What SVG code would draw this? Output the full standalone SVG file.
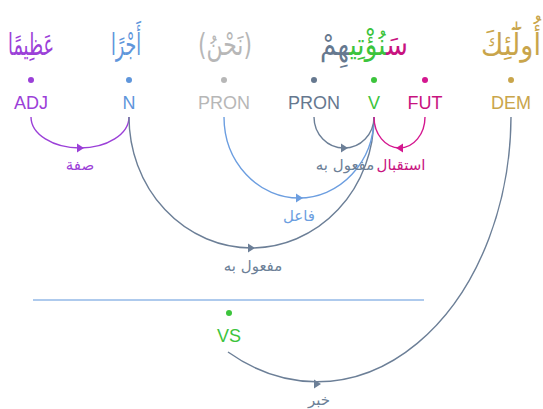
<svg xmlns="http://www.w3.org/2000/svg" width="543" height="409" viewBox="0 0 543 409">
<style>
.w{font-family:"DejaVu Sans",sans-serif;font-size:30px;text-anchor:middle;direction:rtl}
.t{font-family:"Liberation Sans",Arial,sans-serif;font-size:18px;text-anchor:middle}
.l{font-family:"DejaVu Sans",sans-serif;font-size:15px;text-anchor:middle;direction:rtl}
.a{fill:none;stroke-width:1.4}
</style>
<rect width="543" height="409" fill="#fff"/>
<g id="n-adj"><text class="w" x="31" y="55" fill="#9b40d8" textLength="46" lengthAdjust="spacingAndGlyphs">عَظِيمًا</text><circle cx="31" cy="80" r="3" fill="#9b40d8"/><text class="t" x="31" y="109" fill="#9b40d8">ADJ</text></g>
<g id="n-n"><text class="w" x="126" y="55" fill="#5f96db" textLength="30" lengthAdjust="spacingAndGlyphs">أَجْرًا</text><circle cx="129" cy="80" r="3" fill="#5f96db"/><text class="t" x="129" y="109" fill="#5f96db">N</text></g>
<g id="n-pron1"><text class="w" x="225" y="55" fill="#b7b7b7" textLength="54" lengthAdjust="spacingAndGlyphs">(نَحْنُ)</text><circle cx="224" cy="80" r="3" fill="#b7b7b7"/><text class="t" x="224" y="109" fill="#b7b7b7">PRON</text></g>
<g id="n-word"><text class="w" x="364" y="55" textLength="88" lengthAdjust="spacingAndGlyphs"><tspan fill="#c8137f">سَ</tspan><tspan fill="#3cc43c">نُؤْتِي</tspan><tspan fill="#66788f">هِمْ</tspan></text></g>
<g id="n-pron2"><circle cx="314" cy="80" r="3" fill="#66788f"/><text class="t" x="314" y="109" fill="#66788f">PRON</text></g>
<g id="n-v"><circle cx="374" cy="80" r="3" fill="#3cc43c"/><text class="t" x="374" y="109" fill="#3cc43c">V</text></g>
<g id="n-fut"><circle cx="425" cy="80" r="3" fill="#d4178f"/><text class="t" x="425" y="109" fill="#c8137f">FUT</text></g>
<g id="n-dem"><text class="w" x="511" y="55" fill="#c9a54b" textLength="60" lengthAdjust="spacingAndGlyphs">أُولَٰٓئِكَ</text><circle cx="511" cy="80" r="3" fill="#c9a54b"/><text class="t" x="511" y="109" fill="#c9a54b">DEM</text></g>
<g id="n-vs"><circle cx="229" cy="313" r="3" fill="#3cc43c"/><text class="t" x="229" y="342" fill="#3cc43c">VS</text></g>
<line x1="33" y1="300" x2="424" y2="300" stroke="#5f96db" stroke-width="1.2"/>
<g id="connectors">
<path class="a" stroke="#9b40d8" d="M31 117 A49 31 0 0 0 129 117"/>
<polygon fill="#9b40d8" points="77,143.5 84,148 77,152.5"/>
<text class="l" x="80" y="170" fill="#9b40d8">صفة</text>
<path class="a" stroke="#6c7f97" d="M129 117 A122.5 131 0 0 0 374 117"/>
<polygon fill="#6c7f97" points="248,243.5 255,248 248,252.5"/>
<text class="l" x="253" y="271" fill="#6c7f97">مفعول به</text>
<path class="a" stroke="#6c9ee0" d="M224 117 A75 81 0 0 0 374 117"/>
<polygon fill="#6c9ee0" points="296,193.5 303,198 296,202.5"/>
<text class="l" x="299" y="221" fill="#6c9ee0">فاعل</text>
<path class="a" stroke="#6c7f97" d="M314 117 A30 31 0 0 0 374 117"/>
<polygon fill="#6c7f97" points="341,143.5 348,148 341,152.5"/>
<text class="l" x="345" y="170" fill="#6c7f97">مفعول به</text>
<path class="a" stroke="#d4178f" d="M374 117 A25.5 31 0 0 0 425 117"/>
<polygon fill="#d4178f" points="403,143.5 396,148 403,152.5"/>
<text class="l" x="401" y="170" fill="#c8137f">استقبال</text>
<path class="a" stroke="#6c7f97" d="M511 117 A194 267 0 0 1 228 352"/>
<polygon fill="#6c7f97" points="314,379.5 321,384 314,388.5"/>
<text class="l" x="319" y="405" fill="#6c7f97">خبر</text>
</g>
</svg>
